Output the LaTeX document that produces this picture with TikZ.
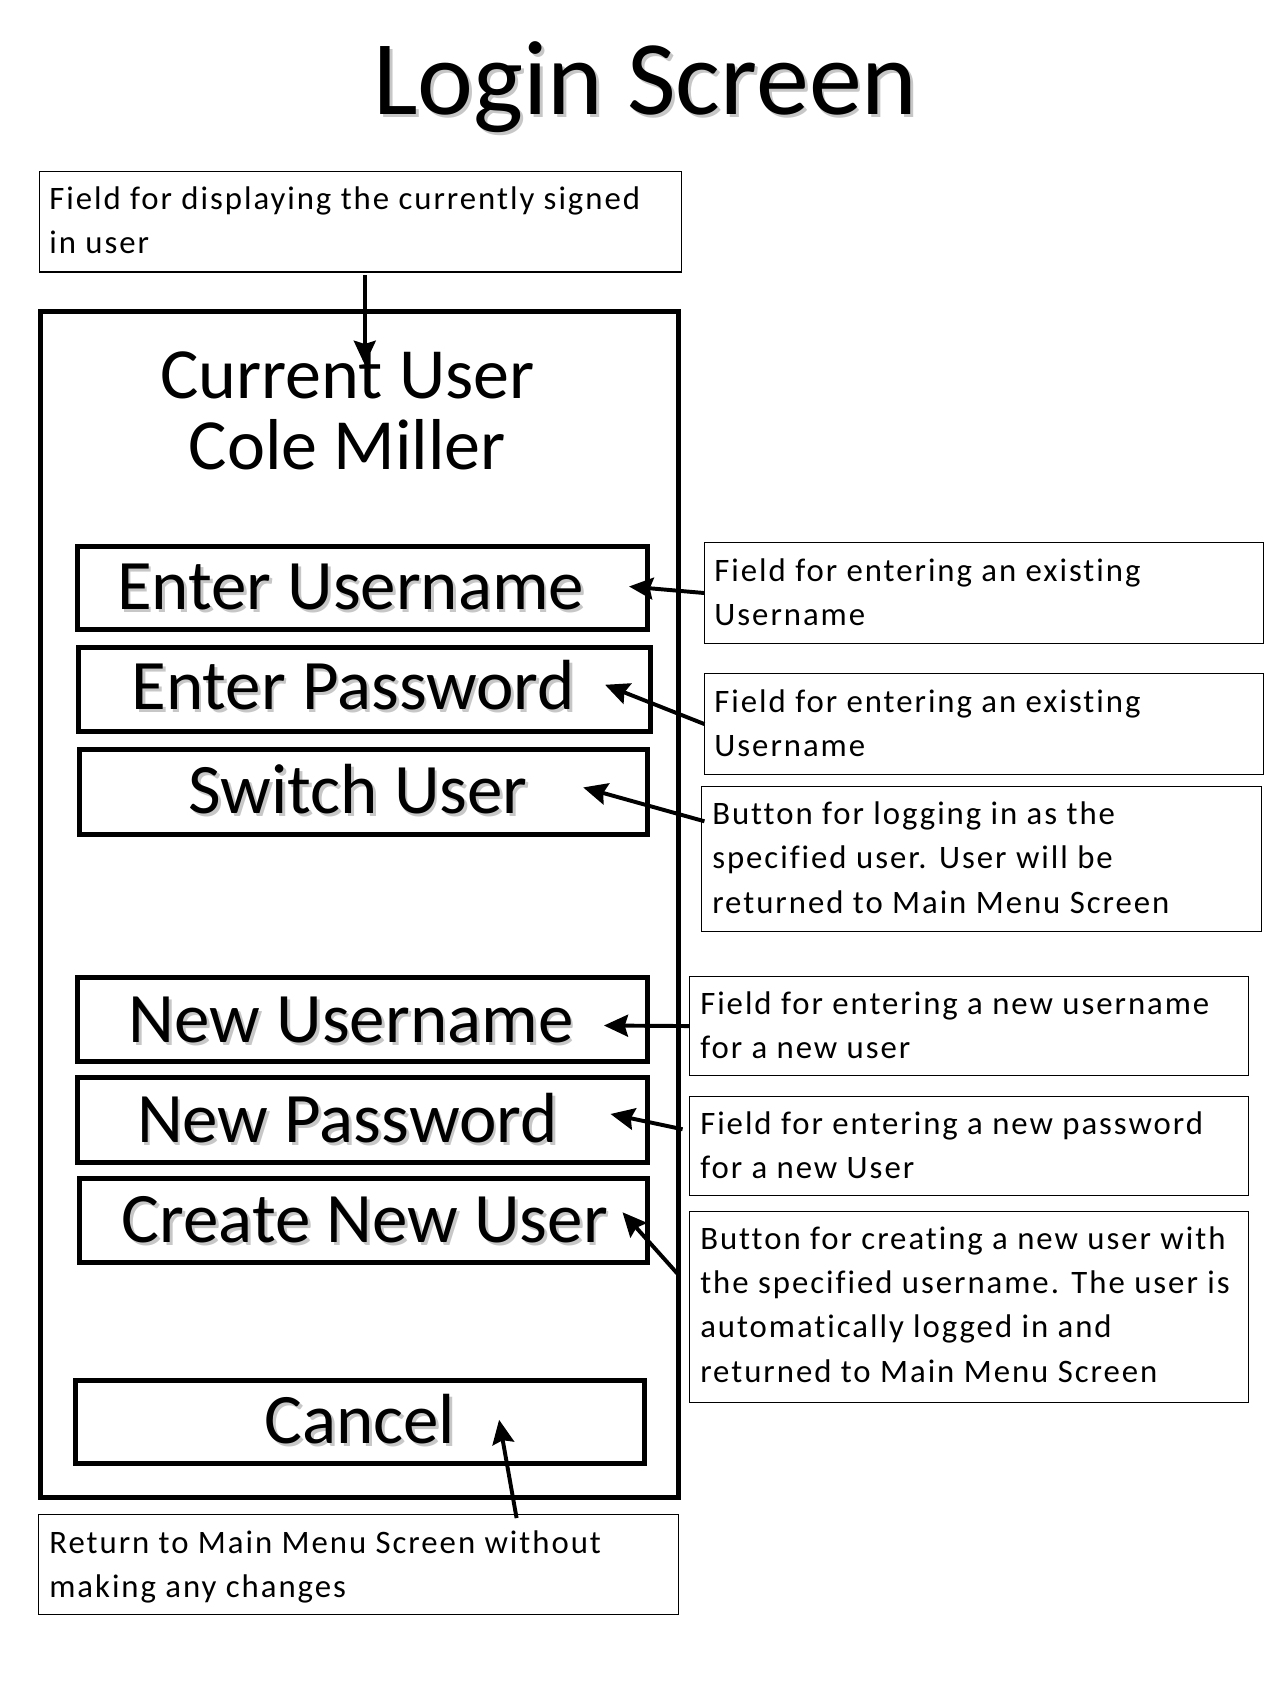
\documentclass[tikz,border=0pt]{standalone}
\usepackage{fontspec}
\setmainfont{Carlito}
\newfontfamily\annfont[LetterSpace=6,Ligatures={NoCommon}]{Carlito}
\usetikzlibrary{arrows.meta,calc}
\newcommand\txtshadow[1]{\makebox[0pt][l]{\kern2.5pt\raisebox{-2.5pt}{\textcolor{black!22}{#1}}}#1}
\tikzset{
  ann/.style={draw=black, line width=1.1pt, anchor=north west, inner sep=0pt, outer sep=0pt},
  anntext/.style={anchor=base west, inner sep=0pt, font=\annfont\fontsize{30}{40.5}\selectfont},
  btn/.style={draw=black, line width=4.6pt, anchor=north west, inner sep=0pt, outer sep=0pt},
  btntext/.style={anchor=base, inner sep=0pt, font=\fontsize{65}{65}\selectfont},
  frame/.style={draw=black, line width=4.4pt, anchor=north west, inner sep=0pt, outer sep=0pt},
  conn/.style={line width=3.6pt, -{Stealth[length=22pt,width=20pt,inset=3pt]}}
}
\begin{document}
\begin{tikzpicture}[x=1pt,y=-1pt]
\useasboundingbox[fill=white] (0,0) rectangle (1172,1563);

% title
\node[anchor=base, inner sep=0pt, font=\fontsize{97}{97}\selectfont] (ttl) at (591,105) {\txtshadow{Login Screen}};

% phone frame
\node[frame, minimum width=584, minimum height=1086] (fr) at (37,285) {};

% current user
\node[anchor=base, inner sep=0pt, font=\fontsize{66}{65}\selectfont] (cu) at (318,365)
  {\parbox[t]{400pt}{\centering Current User\\Cole Miller}};

% buttons
\node[btn, minimum width=522, minimum height=76] (eu) at (71,500) {};
\node[btntext] (eut) at (321,558) {\txtshadow{Enter Username}};
\node[btn, minimum width=524, minimum height=77] (ep) at (72,593) {};
\node[btntext] (ept) at (323.5,650) {\txtshadow{Enter Password}};
\node[btn, minimum width=520, minimum height=78] (su) at (73,686) {};
\node[btntext] (sut) at (328,745) {\txtshadow{Switch User}};
\node[btn, minimum width=522, minimum height=77] (nu) at (71,895) {};
\node[btntext] (nut) at (321.5,955) {\txtshadow{New Username}};
\node[btn, minimum width=522, minimum height=77] (np) at (71,987) {};
\node[btntext] (npt) at (318,1046) {\txtshadow{New Password}};
\node[btn, minimum width=520, minimum height=77] (cn) at (73,1079) {};
\node[btntext] (cnt) at (334,1138) {\txtshadow{Create New User}};
\node[btn, minimum width=521, minimum height=76] (ca) at (69,1264) {};
\node[btntext] (cat) at (329.5,1322) {\txtshadow{Cancel}};

% annotation boxes
\node[ann, minimum width=588, minimum height=92] (bT) at (36,157) {};
\node[anntext] (tT) at (45,192) {\parbox[t]{600pt}{Field for displaying the currently signed\\in user}};
\node[ann, minimum width=512, minimum height=92] (bA) at (645,497) {};
\node[anntext] (tA) at (654,532) {\parbox[t]{600pt}{Field for entering an existing\\Username}};
\node[ann, minimum width=512, minimum height=92] (bB) at (645,617) {};
\node[anntext] (tB) at (654,652) {\parbox[t]{600pt}{Field for entering an existing\\Username}};
\node[ann, minimum width=513, minimum height=133] (bC) at (642,720) {};
\node[anntext] (tC) at (652,755) {\parbox[t]{600pt}{Button for logging in as the\\specified user. User will be\\returned to Main Menu Screen}};
\node[ann, minimum width=512, minimum height=91] (bD) at (631,894) {};
\node[anntext] (tD) at (641,929) {\parbox[t]{600pt}{Field for entering a new username\\for a new user}};
\node[ann, minimum width=512, minimum height=91] (bE) at (631,1004) {};
\node[anntext] (tE) at (641,1039) {\parbox[t]{600pt}{Field for entering a new password\\for a new User}};
\node[ann, minimum width=512, minimum height=175] (bF) at (631,1109) {};
\node[anntext] (tF) at (641,1144) {\parbox[t]{600pt}{Button for creating a new user with\\the specified username. The user is\\automatically logged in and\\returned to Main Menu Screen}};
\node[ann, minimum width=586, minimum height=91] (bG) at (35,1387) {};
\node[anntext] (tG) at (45,1422) {\parbox[t]{600pt}{Return to Main Menu Screen without\\making any changes}};

% connector end points
\coordinate (sT) at (334,252);
\coordinate (eT) at (334,334);
\coordinate (eA) at (576,537);
\coordinate (eB) at (554,627);
\coordinate (sC) at (645,752);
\coordinate (eC) at (534,721);
\coordinate (eD) at (553,939);
\coordinate (sE) at (625,1034);
\coordinate (eE) at (559,1020);
\coordinate (sF) at (621,1167);
\coordinate (eF) at (570,1110);
\coordinate (sG) at (473,1390);
\coordinate (eG) at (457,1300);

% connectors
\draw[conn] (sT) -- (eT);
\draw[conn] (bA.west) -- (eA);
\draw[conn] (bB.west) -- (eB);
\draw[conn] (sC) -- (eC);
\draw[conn] (bD.west) -- (eD);
\draw[conn] (sE) -- (eE);
\draw[conn] (sF) -- (eF);
\draw[conn] (sG) -- (eG);
\end{tikzpicture}
\end{document}
